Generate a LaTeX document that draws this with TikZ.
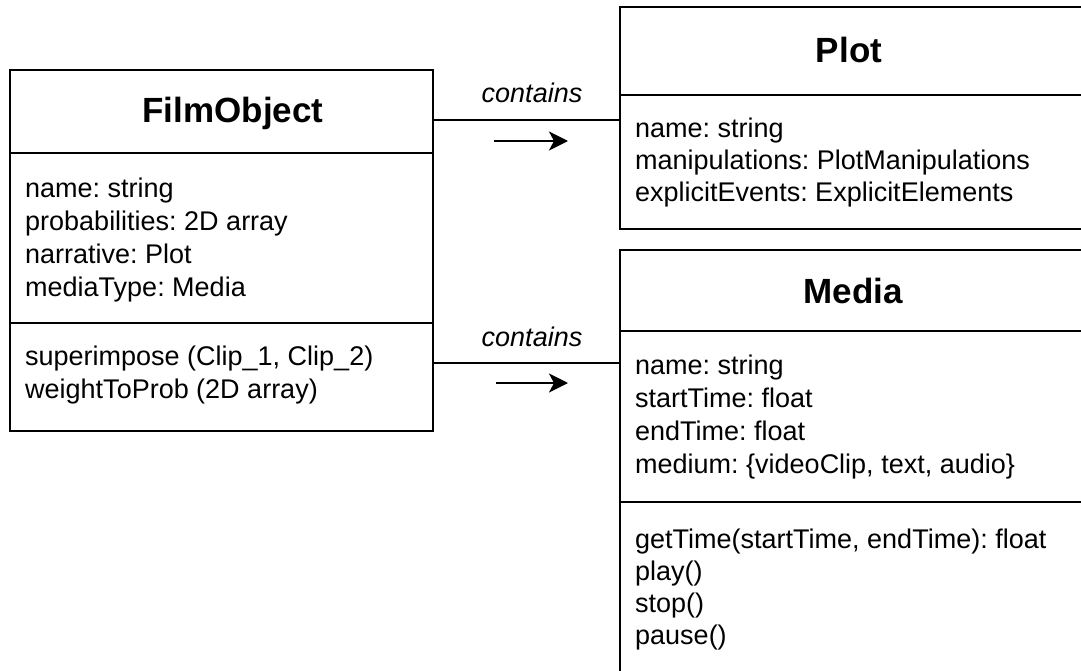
\documentclass[tikz,border=0pt]{standalone}
\usepackage{fontspec}
\setmainfont{Liberation Sans}
\usetikzlibrary{arrows.meta}
\frenchspacing
\begin{document}
\begin{tikzpicture}[x=1pt,y=-1pt,
  classbox/.style={draw, line width=1.7pt, rectangle, inner sep=0pt, anchor=north west},
  rule/.style={line width=1.7pt},
  classtitle/.style={font=\fontsize{35}{40}\selectfont\bfseries, inner sep=0pt, anchor=base},
  member/.style={font=\fontsize{27}{33}\selectfont, inner sep=0pt, anchor=base west},
  assoc/.style={line width=1.7pt},
  role/.style={font=\fontsize{27}{33}\selectfont\itshape, inner sep=0pt, anchor=base},
  dirarrow/.style={line width=2.4pt, -{Stealth[length=19pt,width=19pt,inset=5pt]}}
]
\useasboundingbox (0,0) rectangle (1081,671);

% ---- FilmObject ----
\node[classbox, minimum width=423pt, minimum height=361pt] (film) at (9,69) {};
\draw[rule] (film.west |- 0,153) -- (film.east |- 0,153);
\draw[rule] (film.west |- 0,323) -- (film.east |- 0,323);
\node[classtitle] (filmtitle) at (233,123) {FilmObject};
\foreach \txt [count=\i] in {name: string, probabilities: 2D array, narrative: Plot, mediaType: Media}
  \node[member] (filmattr\i) at (25,{197+33*(\i-1)}) {\txt};
\foreach \txt [count=\i] in {{superimpose (Clip\_1, Clip\_2)}, weightToProb (2D array)}
  \node[member] (filmop\i) at (25,{365+33*(\i-1)}) {\txt};

% ---- Plot (runs past the right edge) ----
\node[classbox, minimum width=500pt, minimum height=222pt] (plot) at (619,6) {};
\draw[rule] (plot.west |- 0,95) -- (plot.east |- 0,95);
\node[classtitle] (plottitle) at (849,63) {Plot};
\foreach \txt [count=\i] in {name: string, manipulations: PlotManipulations, explicitEvents: ExplicitElements}
  \node[member] (plotattr\i) at (635,{138+32*(\i-1)}) {\txt};

% ---- Media (runs past the right and bottom edges) ----
\node[classbox, minimum width=500pt, minimum height=460pt] (media) at (619,249) {};
\draw[rule] (media.west |- 0,331) -- (media.east |- 0,331);
\draw[rule] (media.west |- 0,502) -- (media.east |- 0,502);
\node[classtitle] (mediatitle) at (853,303) {Media};
\foreach \txt [count=\i] in {name: string, startTime: float, endTime: float, {medium: \{videoClip, text, audio\}}}
  \node[member] (mediaattr\i) at (635,{374+33*(\i-1)}) {\txt};
\foreach \txt [count=\i] in {{getTime(startTime, endTime): float}, play(), stop(), pause()}
  \node[member] (mediaop\i) at (635,{548+32*(\i-1)}) {\txt};

% ---- associations ----
\draw[assoc] (film.east |- 0,120) -- (plot.west |- 0,120);
\draw[assoc] (film.east |- 0,363) -- (media.west |- 0,363);
\node[role] (role1) at (532,103) {contains};
\node[role] (role2) at (532,346) {contains};

% reading-direction arrows under the labels
\coordinate (dir1a) at (494,141);
\coordinate (dir1b) at (568,141);
\coordinate (dir2a) at (496,383);
\coordinate (dir2b) at (568,383);
\draw[dirarrow] (dir1a) -- (dir1b);
\draw[dirarrow] (dir2a) -- (dir2b);
\end{tikzpicture}
\end{document}
